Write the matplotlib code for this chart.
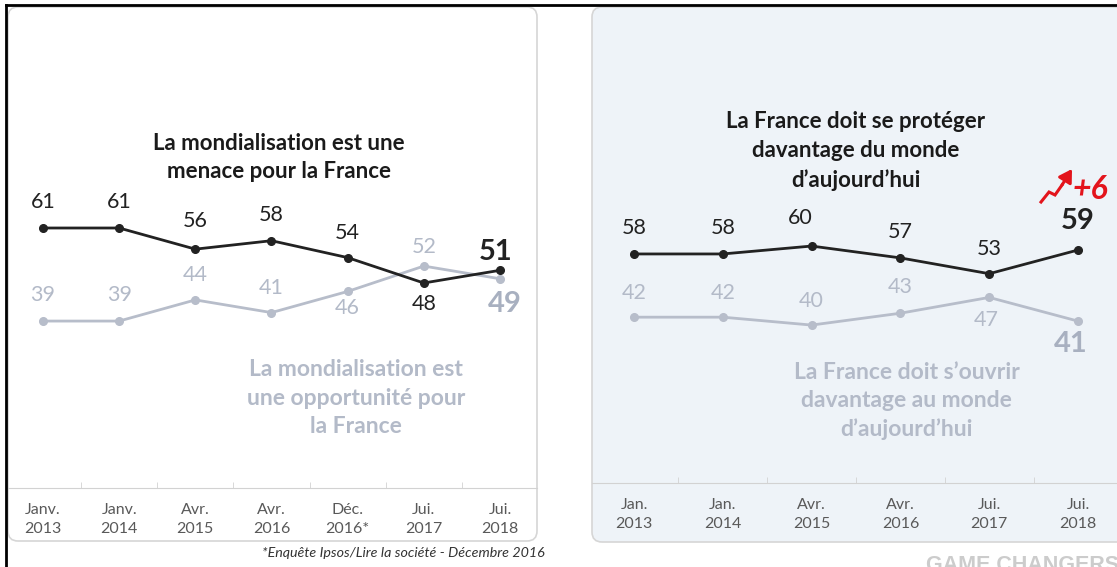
import numpy as np
import matplotlib.pyplot as plt
import matplotlib.transforms as mtransforms
from matplotlib.patches import FancyBboxPatch, FancyArrowPatch
from matplotlib.lines import Line2D

plt.rcParams['font.family'] = ['Lato', 'DejaVu Sans']

W, H = 1117, 567

# left chart
left_dates = ['Janv.\n2013', 'Janv.\n2014', 'Avr.\n2015', 'Avr.\n2016',
              'Déc.\n2016*', 'Jui.\n2017', 'Jui.\n2018']
menace = [61, 61, 56, 58, 54, 48, 51]
opportunite = [39, 39, 44, 41, 46, 52, 49]

# right chart
right_dates = ['Jan.\n2013', 'Jan.\n2014', 'Avr.\n2015', 'Avr.\n2016',
               'Jui.\n2017', 'Jui.\n2018']
proteger = [58, 58, 60, 57, 53, 59]
ouvrir = [42, 42, 40, 43, 47, 41]

# label offsets (pixels) for each point
menace_off = [(0, 26), (0, 26), (0, 28), (0, 26), (0, 25), (0, -21), (-4, 18)]
opport_off = [(0, 26), (0, 26), (0, 25), (0, 25), (0, -17), (0, 19), (5, -25)]
proteger_off = [(0, 26), (0, 26), (-11, 28), (0, 26), (0, 25), (0, 29)]
ouvrir_off = [(0, 24), (0, 24), (0, 24), (0, 26), (-3, -23), (-7, -23)]

DARK = '#222222'
GREY = '#b7bdca'
GREY_TXT = '#b3bac8'
RED = '#e3141c'


def fr(x0, y0, x1, y1):
    # image pixels (top-down) -> figure fraction rect
    return [x0 / W, 1 - y1 / H, (x1 - x0) / W, (y1 - y0) / H]


fig = plt.figure(figsize=(W / 100, H / 100), dpi=100)
fig.patch.set_facecolor('white')

# panel boxes
for (x0, y0, x1, y1), fc in [((8, 7, 537, 541), 'white'),
                             ((592, 7, 1135, 542), '#eef3f8')]:
    r = fr(x0, y0, x1, y1)
    p = FancyBboxPatch((r[0], r[1]), r[2], r[3],
                       boxstyle='round,pad=0,rounding_size=%f' % (10 / W),
                       mutation_aspect=W / H, transform=fig.transFigure,
                       facecolor=fc, edgecolor='#d6d6d6', linewidth=1.2, zorder=-1)
    fig.patches.append(p)

# outer black frame (top and left)
fig.lines.append(Line2D([6 / W, 1], [1 - 5 / H, 1 - 5 / H], color='black',
                        linewidth=2, transform=fig.transFigure))
fig.lines.append(Line2D([6 / W, 6 / W], [0, 1 - 5 / H], color='black',
                        linewidth=2, transform=fig.transFigure))


def panel(ax, dates, top, bottom, top_off, bot_off, xlim, ylim, base):
    n = len(dates)
    x = np.arange(n)
    ax.set_xlim(*xlim)
    ax.set_ylim(*ylim)
    ax.patch.set_visible(False)
    for s in ['left', 'right', 'top']:
        ax.spines[s].set_visible(False)
    ax.spines['bottom'].set_position(('data', base))
    ax.spines['bottom'].set_color('#d2d2d2')
    ax.set_yticks([])
    ax.set_xticks(x)
    ax.set_xticklabels(dates, fontsize=11.5, color='#595959', linespacing=1.45)
    ax.set_xticks(x[:-1] + 0.5, minor=True)
    ax.tick_params(axis='x', which='major', length=0, pad=11)
    ax.tick_params(axis='x', which='minor', direction='in', length=4,
                   color='#d2d2d2')

    ax.plot(x, bottom, color=GREY, lw=2.0, marker='o', ms=5.5, zorder=2)
    ax.plot(x, top, color=DARK, lw=2.0, marker='o', ms=5.5, zorder=3)

    for i in range(n):
        last = i == n - 1
        ax.annotate(str(top[i]), (x[i], top[i]), xytext=top_off[i],
                    textcoords='offset pixels', ha='center', va='center',
                    fontsize=21 if last else 15.5, color=DARK,
                    fontweight='bold' if last else 'normal')
        ax.annotate(str(bottom[i]), (x[i], bottom[i]), xytext=bot_off[i],
                    textcoords='offset pixels', ha='center', va='center',
                    fontsize=21 if last else 15.5,
                    color='#a8b0c0' if last else GREY_TXT,
                    fontweight='bold' if last else 'normal')
    return x


axl = fig.add_axes(fr(8, 7, 537, 541))
panel(axl, left_dates, menace, opportunite, menace_off, opport_off,
      (-0.4595, 6.486), (-13.0, 113.25), -0.5)
axl.text(3.1, 77.7, 'La mondialisation est une\nmenace pour la France',
         ha='center', va='center', fontsize=16, fontweight='bold',
         color='#1a1a1a', linespacing=1.45)
axl.text(4.11, 20.8, 'La mondialisation est\nune opportunité pour\nla France',
         ha='center', va='center', fontsize=16.5, fontweight='bold',
         color=GREY_TXT, linespacing=1.42)

axr = fig.add_axes(fr(592, 7, 1117, 542))
xr = panel(axr, right_dates, proteger, ouvrir, proteger_off, ouvrir_off,
           (-0.473, 5.439), (-14.9, 120.5), 0)
axr.text(2.5, 84.1, 'La France doit se protéger\ndavantage du monde\nd’aujourd’hui',
         ha='center', va='center', fontsize=16, fontweight='bold',
         color='#1a1a1a', linespacing=1.45)
axr.text(3.07, 20.8, 'La France doit s’ouvrir\ndavantage au monde\nd’aujourd’hui',
         ha='center', va='center', fontsize=16.5, fontweight='bold',
         color=GREY_TXT, linespacing=1.42)

# +6 trend marker above the last point (offsets in pixels from that point)
lx, ly = xr[-1], proteger[-1]
t = mtransforms.Affine2D() + mtransforms.ScaledTranslation(lx, ly, axr.transData)
axr.annotate('+6', (lx, ly), xytext=(12, 61), textcoords='offset pixels',
             ha='center', va='center', fontsize=23, fontweight='bold',
             fontstyle='italic', color=RED)
zx = [-37, -29, -23, -16]
zy = [48, 58, 55, 65]
axr.add_line(Line2D(zx, zy, transform=t, color=RED, lw=2.2,
                    solid_joinstyle='miter', clip_on=False))
axr.add_patch(FancyArrowPatch((-16, 65), (-6, 81), transform=t,
                              arrowstyle='-|>,head_length=5,head_width=3',
                              color=RED, lw=2.2, shrinkA=0, shrinkB=0,
                              mutation_scale=1.5, clip_on=False))

fig.text(545 / W, 1 - 553 / H,
         '*Enquête Ipsos/Lire la société - Décembre 2016',
         ha='right', va='center', fontsize=10.3, fontstyle='italic', color='#333333')
fig.text(926 / W, 1 - 555 / H, 'GAME CHANGERS', ha='left', va='top',
         fontsize=15.5, fontweight='bold', color='#cccccc',
         family=['Liberation Sans', 'DejaVu Sans'])

fig.savefig('out.png', dpi=100)
